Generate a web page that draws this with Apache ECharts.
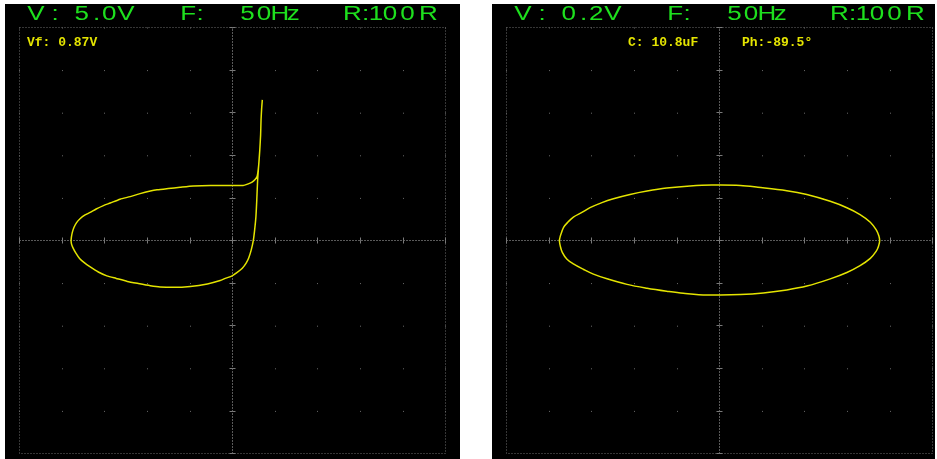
<!DOCTYPE html>
<html>
<head>
<meta charset="utf-8">
<script src="https://cdn.jsdelivr.net/npm/echarts@6/dist/echarts.min.js"></script>
<style>
  html, body { margin: 0; padding: 0; background: #fff; }
  #chart { width: 937px; height: 459px; }
</style>
</head>
<body>
<div id="chart"></div>
<script>
// traces in screen divisions (10 x 10 grid, centre = 0)
const diodeTrace = [
  [-3.79, 0], [-3.78, 0.09], [-3.76, 0.19], [-3.72, 0.31], [-3.66, 0.42], [-3.58, 0.51], [-3.46, 0.60],
  [-3.34, 0.66], [-3.20, 0.74], [-3.03, 0.82], [-2.87, 0.88], [-2.64, 0.97], [-2.40, 1.03],
  [-2.17, 1.10], [-1.93, 1.16], [-1.77, 1.19], [-1.51, 1.22], [-1.23, 1.25], [-0.92, 1.28],
  [-0.52, 1.29], [-0.05, 1.29], [0.25, 1.29], [0.37, 1.33], [0.46, 1.37], [0.53, 1.43],
  [0.58, 1.51], [0.615, 1.77], [0.64, 2.12], [0.66, 2.48], [0.67, 2.83], [0.685, 3.11],
  [0.70, 3.30], [0.685, 3.11], [0.67, 2.83], [0.66, 2.48], [0.64, 2.12], [0.615, 1.77],
  [0.59, 1.42], [0.57, 0.95], [0.55, 0.56], [0.52, 0.25], [0.49, 0.01], [0.44, -0.22],
  [0.38, -0.41], [0.32, -0.53], [0.23, -0.65], [0.11, -0.75], [-0.01, -0.83], [-0.17, -0.89],
  [-0.29, -0.94], [-0.59, -1.02], [-0.99, -1.08], [-1.39, -1.10], [-1.70, -1.09], [-1.93, -1.06],
  [-2.21, -1.01], [-2.47, -0.96], [-2.73, -0.89], [-2.95, -0.83], [-3.15, -0.74], [-3.34, -0.62],
  [-3.48, -0.52], [-3.59, -0.42], [-3.68, -0.29], [-3.75, -0.16], [-3.78, -0.08], [-3.79, 0]
];
const capTrace = [
  [-3.76, 0], [-3.74, 0.09], [-3.71, 0.18], [-3.66, 0.31], [-3.55, 0.44], [-3.43, 0.55], [-3.23, 0.66],
  [-3.04, 0.77], [-2.76, 0.89], [-2.49, 0.98], [-2.10, 1.08], [-1.70, 1.16], [-1.24, 1.23],
  [-0.69, 1.28], [-0.18, 1.30], [0.02, 1.30], [0.49, 1.29], [0.90, 1.25], [1.58, 1.17],
  [2.05, 1.08], [2.60, 0.92], [2.99, 0.77], [3.30, 0.61], [3.54, 0.43], [3.68, 0.25],
  [3.74, 0.11], [3.76, 0], [3.73, -0.14], [3.68, -0.25], [3.54, -0.42], [3.30, -0.59], [2.99, -0.75], [2.60, -0.90],
  [2.05, -1.07], [1.58, -1.16], [1.03, -1.23], [0.49, -1.27], [0.02, -1.28], [-0.30, -1.28],
  [-0.85, -1.24], [-1.24, -1.19], [-1.70, -1.12], [-2.17, -1.03], [-2.64, -0.90], [-2.96, -0.79],
  [-3.19, -0.68], [-3.43, -0.55], [-3.58, -0.44], [-3.69, -0.28], [-3.74, -0.12], [-3.76, 0]
];
const headerLeft = 'V:5.0VF:50HzR:100R';
const headerRight = 'V:0.2VF:50HzR:100R';
// glyph centres, relative to the panel's left edge
const headerGlyphX = [30.8, 50, 76.7, 91.7, 104.2, 120.8, 183.3, 195, 242.5, 259, 275, 288.3, 347.5, 360.7, 371, 385, 402.5, 423.3];
const leftNotes = ['Vf: 0.87V'];
const rightNotes = ['C: 10.8uF', 'Ph:-89.5°'];

const green = '#1ee01e';
const yellow = '#e4e400';
const panels = [
  { x: 5, w: 455, gridLeft: 19.5, header: headerLeft, notes: leftNotes, noteX: [27], trace: diodeTrace },
  { x: 492, w: 443, gridLeft: 506.5, header: headerRight, notes: rightNotes, noteX: [628, 742], trace: capTrace }
];

const graphic = [];
const grid = [];
const xAxis = [];
const yAxis = [];
const series = [];

panels.forEach((p, i) => {
  graphic.push({
    type: 'rect', z: -10, silent: true,
    shape: { x: p.x, y: 4, width: p.w, height: 455 },
    style: { fill: '#000' }
  });
  p.header.split('').forEach((ch, k) => {
    graphic.push({
      type: 'text', z: 10, silent: true,
      x: p.x + headerGlyphX[k], y: 14, scaleX: 1.3,
      style: {
        text: ch, fill: green, font: '20px "Liberation Sans"',
        textAlign: 'center', textVerticalAlign: 'middle'
      }
    });
  });
  p.notes.forEach((t, k) => {
    graphic.push({
      type: 'text', z: 10, silent: true,
      x: p.noteX[k], y: 43,
      style: {
        text: t, fill: yellow, font: 'bold 13px "Liberation Mono"',
        textAlign: 'left', textVerticalAlign: 'middle'
      }
    });
  });

  grid.push({
    left: p.gridLeft, top: 27.5, width: 426, height: 426,
    show: true, backgroundColor: 'transparent',
    borderColor: '#6c6c6c', borderWidth: 1, borderType: [1, 2]
  });

  const base = {
    gridIndex: i, type: 'value', min: -5, max: 5, interval: 1,
    axisLabel: { show: false }
  };
  // main axes: dotted centre lines, inner half of the ticks, intersection dots
  xAxis.push(Object.assign({}, base, {
    position: 'bottom',
    axisLine: { show: true, onZero: true, lineStyle: { color: '#646464', width: 1, type: [1, 2] } },
    axisTick: { show: true, inside: true, length: 3, lineStyle: { color: '#7a7a7a' } },
    splitLine: { show: true, lineStyle: { color: '#6a6a6a', width: 1, type: [1, 41.6] } }
  }));
  yAxis.push(Object.assign({}, base, {
    position: 'left',
    axisLine: { show: true, onZero: true, lineStyle: { color: '#646464', width: 1, type: [1, 2] } },
    axisTick: { show: true, inside: true, length: 3, lineStyle: { color: '#7a7a7a' } },
    splitLine: { show: false }
  }));
  // second pair: outer half of the ticks
  xAxis.push(Object.assign({}, base, {
    position: 'bottom',
    axisLine: { show: false, onZero: true },
    axisTick: { show: true, inside: false, length: 3, lineStyle: { color: '#7a7a7a' } },
    splitLine: { show: false }
  }));
  yAxis.push(Object.assign({}, base, {
    position: 'left',
    axisLine: { show: false, onZero: true },
    axisTick: { show: true, inside: false, length: 3, lineStyle: { color: '#7a7a7a' } },
    splitLine: { show: false }
  }));

  series.push({
    type: 'line',
    xAxisIndex: i * 2, yAxisIndex: i * 2,
    data: p.trace,
    showSymbol: false,
    smooth: i === 0 ? 0.2 : 0.35,
    animation: false,
    silent: true,
    z: 5,
    lineStyle: { color: yellow, width: 1.5 }
  });
});

const myChart = echarts.init(document.getElementById('chart'));
myChart.setOption({
  backgroundColor: '#fff',
  animation: false,
  graphic,
  grid,
  xAxis,
  yAxis,
  series
});
</script>
</body>
</html>
